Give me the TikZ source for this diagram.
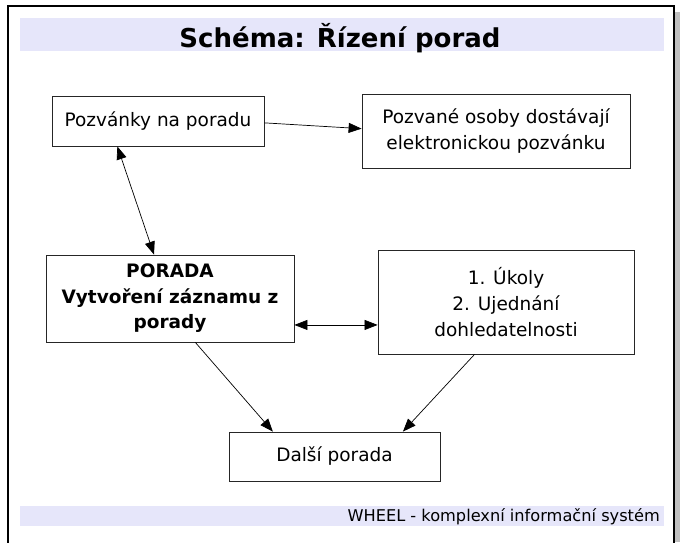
\documentclass[tikz,border=0pt]{standalone}
\usepackage{fontspec}
\setmainfont{DejaVu Sans}
\usepackage{tikz}
\usetikzlibrary{arrows.meta}
\usetikzlibrary{positioning}
\definecolor{bandblue}{RGB}{230,230,250}
\definecolor{shadowgray}{RGB}{192,192,192}

\begin{document}
\begin{tikzpicture}[x=1pt,y=-1pt,
  box/.style={draw=black!85,line width=0.8pt,fill=white,align=center,inner sep=0pt,font=\fontsize{18.5}{26}\selectfont},
  conn/.style={line width=0.7pt,-{Triangle[length=13pt,width=10pt]}},
  both/.style={line width=0.7pt,{Triangle[length=13pt,width=10pt]}-{Triangle[length=13pt,width=10pt]}}]
  \useasboundingbox (0,0) rectangle (680,542);
  % slide frame
  \fill[shadowgray] (675,12) rectangle (680,542);
  \draw[line width=1.8pt] (8,560) -- (8,6) -- (674,6) -- (674,560);
  \fill[bandblue] (20,18) rectangle (664,51);
  \fill[bandblue] (20,506) rectangle (664,526);
  \node[anchor=base,inner sep=0pt] (title) at (340,47) {\fontsize{26}{30}\selectfont\bfseries Schéma: Řízení porad};
  \node[anchor=base east,inner sep=0pt] (footer) at (660,521) {\fontsize{16.2}{18}\selectfont WHEEL - komplexní informační systém};

  \node[box,minimum width=212pt,minimum height=50pt] (invite) at (158,121) {Pozvánky na poradu};
  \node[box,minimum width=268pt,minimum height=74pt] (notify) at (496,131) {Pozvané osoby dostávají\\elektronickou pozvánku};
  \node[box,minimum width=248pt,minimum height=87pt,font=\fontsize{18.5}{25.5}\selectfont\bfseries] (meeting) at (170,298.5) {PORADA\\Vytvoření záznamu z\\porady};
  \node[box,minimum width=256pt,minimum height=104pt] (tasks) at (506,302) {1. Úkoly\\2. Ujednání\\dohledatelnosti};
  \node[box,minimum width=211pt,minimum height=49pt] (next) at (334.5,456.5) {Další porada};

  \draw[conn](invite.-1)--(notify.179);
  \draw[both](invite.212)--(meeting.110);
  \draw[both](meeting.-12.5)--(meeting.-12.5 -| tasks.west);
  \draw[conn](meeting.-60)--(next.158);
  \draw[conn](tasks.239)--(next.20);
\end{tikzpicture}
\end{document}
